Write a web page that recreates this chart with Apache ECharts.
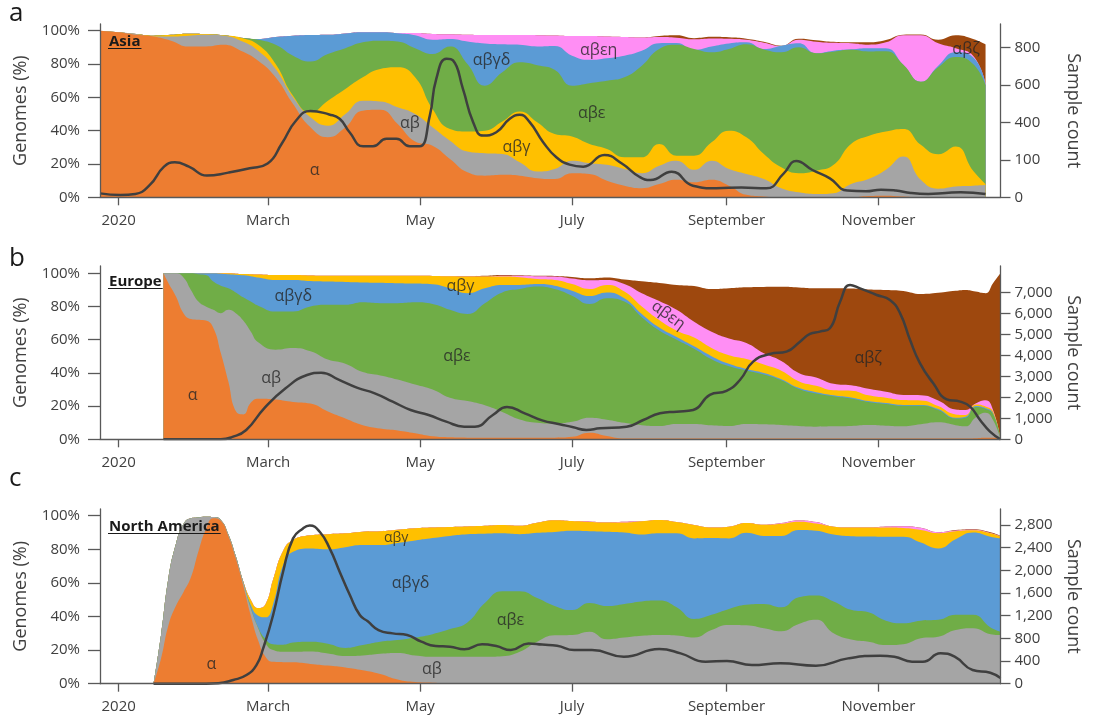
<!DOCTYPE html>
<html><head><meta charset="utf-8">
<script src="https://cdn.jsdelivr.net/npm/echarts@6/dist/echarts.min.js"></script>
<style>html,body{margin:0;padding:0;background:#fff}#chart{width:1094px;height:719px}</style>
</head><body><div id="chart"></div>
<script>
const FONT = '"Open Sans","Noto Sans","DejaVu Sans",sans-serif';
const AXIS = '#595959', TXT = '#404040', LINE = '#3F3F3F', LABEL = '#262626';
const COLORS = {alpha:'#ED7D31', ab:'#A5A5A5', abg:'#FFC000', abgd:'#5B9BD5', abe:'#70AD47', abeh:'#FF8EF4', abz:'#9E480E'};

// x axis: days since 1 Jan 2020
const monthTickDays = [0, 60, 121, 182, 244, 305];
const monthTickLabels = ['2020', 'March', 'May', 'July', 'September', 'November'];
const pctTicks = [0, 20, 40, 60, 80, 100];
const countTicksA = [0, 200, 400, 600, 800];
const countTickLabelsA = ['0', '100', '400', '600', '800'];
const countTicksB = [0, 1000, 2000, 3000, 4000, 5000, 6000, 7000];
const countTickLabelsB = ['0', '1,000', '2,000', '3,000', '4,000', '5,000', '6,000', '7,000'];
const countTicksC = [0, 400, 800, 1200, 1600, 2000, 2400, 2800];
const countTickLabelsC = ['0', '400', '800', '1,200', '1,600', '2,000', '2,400', '2,800'];
const regionNames = ['Asia', 'Europe', 'North America'];
const panelLetters = ['a', 'b', 'c'];

// ---------- Panel a: Asia (upper edge of each lineage band, % of genomes) ----------
const daysA = [-7.5,0,7,14,21,28,35,42,49,56,63,70,77,84,91,98,105,112,119,126,133,140,147,154,161,168,175,182,189,196,203,210,217,224,231,238,245,252,259,266,273,280,287,294,301,308,315,322,329,336,343,348];
const asiaAlpha = [100,99,97.5,96.5,94,90.5,90.5,91.5,88,82,72,56,42,36,42,52,52.5,44,33.5,31,23,15,13,13.5,13,11.5,11,14.5,14,10,7,5.5,8,10.5,9,10.5,7,1.5,0.5,0,0,0,0,0,0.8,1,0.5,0,0,0,0,0];
const asiaAB = [100,99,98,96.5,96.5,97,97.5,97,94,88,77,60,48,43,50,58,57.5,54,50,42,34,27.5,26.5,26,21,15.5,17,22,20.5,19.5,17,14.5,19,22,16.5,22,17,14,11,5.5,3,2,2.5,8,11,16.5,24.5,10.5,5.2,6.5,7,7.4];
const asiaABG = [100,99,98,97,97.5,98.2,98,97.2,95.8,91.5,80,61,51,58,65,72,77,78,72,53,41,39.5,40,45.5,51.5,45,38,36.5,32,29,24,24,32,25,25,33,40,36,26,18,14.5,16,19.5,32,36.8,39.5,41,31.5,25.8,30.5,16,8];
const asiaABE = [100,99,98,97,97.5,98.2,98,97.2,95.8,94.5,91.5,85,81.5,86,89.5,93,94,93.5,89.5,86,90.5,80,67,75,81,79.3,76.5,67,68.5,70,72,79,89,91.5,89,87,89,91.8,88.7,87,90,86.5,87.4,88.5,87.5,87.6,79.5,69.3,78,84.2,80,67.3];
const asiaABGD = [100,99,98,97,97.5,98.2,98,97.2,95.8,95,96.2,97,97.4,97.5,98.3,99,99,98.4,97.2,94.5,95,93.5,92.3,91.8,91.5,90.5,90.8,85,82.5,83.5,85,88,92.5,92.6,88.5,90.5,92.3,93,89,91,92.5,86.5,88,88.8,89.5,89.4,79.5,69.3,79,87,84,68];
const asiaABEH = [100,99,98,97,97.5,98.2,98,97.2,95.8,95,96.2,97,97.4,97.5,98.3,99,99,98.6,98.6,98,97.8,97.5,97.4,97.4,97.4,97.3,97.1,96.8,96.8,96.5,96.2,95.9,96.2,95.8,94.8,95.3,95.1,94.5,92.8,90.8,94.6,93.4,92.7,92.5,91.6,93,97.3,97.3,92.5,89.5,85,68.3];
const asiaABZ = [100,99,98,97,97.5,98.2,98,97.2,95.8,95,96.2,97,97.4,97.5,98.3,99,99,98.6,98.6,98,97.8,97.5,97.4,97.4,97.4,97.3,97.1,96.8,96.8,96.5,96.2,95.9,96.8,97.2,95.5,96.3,96,95.2,93.3,91,95.2,94.3,93.3,93,93,94.4,97.6,97.7,94.5,97.2,95,91.8];
const countDaysA = [-7.5,0.7,6.7,12.5,18.2,22.5,28.2,35.4,44,52.6,59.8,65.5,71.3,77,84.5,88.7,92.7,98.1,102.1,107.5,111.5,116.8,120.8,124.9,127.5,131.6,134.2,138.2,142.3,146.3,151.6,157,161,165,170.4,175.7,181,186.5,195,202,209,213.5,222,230.5,240,250,260,267,272,278.5,285.5,292.5,300,306,312,318,325,332,338,348];
const countsA = [21,12,18,66,164,187,164,116,132,155,181,288,412,462,443,420,348,273,273,313,313,273,273,437,634,741,732,580,402,330,348,420,441,402,295,214,175,164,226,181,110,92,137,62,48,53,48,128,194,146,101,36,32,41,36,23,18,23,27,18];

// ---------- Panel b: Europe ----------
const daysB = [18,20,23,26,29,32,35,38,41,44,47,50,53,56,63,70,77,84,91,98,105,112,119,126,133,140,147,154,161,168,175,182,189,196,203,210,217,224,231,238,245,252,259,266,273,280,287,294,301,308,315,322,329,336,340,344,348,351,354];
const euAlpha = [100,94,86,76,72.5,72,71.5,67,52,35,17,15,22,24.5,24,22.5,21.5,16.7,12.5,8.5,6.5,5.3,3.6,1.8,1.2,1,1,1,1,1,1,1.5,4,2,0.5,0.5,0.5,0.5,0.5,0.5,0.5,0.5,0.5,0.5,0.5,0.5,0.5,0.5,0.5,0.5,0.5,0.5,0.5,0.5,0.5,0.7,1,1,0];
const euAB = [100,100,100,97.5,90,83,80,78,76,78,76,71.5,65,58.5,54,55,53,48,45.5,40.5,38.5,36,33,30,25,23,20.5,16.5,12,10,9.5,10.5,13,11.8,9.9,8.5,8,9.2,9.2,8.4,8,9.2,9,8.6,8,7.6,7.8,8,8.6,8.2,7.8,9,10.2,8.5,7.8,13.2,16,11.6,0];
const euABE = [100,100,100,100,100,99.5,99,95,92.5,91,88.5,85.5,83,80.5,77,77,80,81,81,82.5,82,82,82.5,81.5,78,75.5,82,88.5,90.5,92,90.5,86.5,81.5,85,83,73.5,65.5,60,54.6,48.2,44,41.5,39,35.5,30.3,27.6,26,24.6,22.5,21.3,20.2,20.2,17.6,12.5,13,19.5,18.3,15.2,0];
const euABGD = [100,100,100,100,100,100,100,100,99.8,99.5,99.2,98.8,98.3,97.5,96,96,95.3,95,94.8,94.5,94.3,94,93.8,93.4,91,88,91,93,93,93.5,92.5,89.5,86.3,88.5,85,75.5,67.3,61.6,56,50.1,45.5,42.4,40,36.2,31,28.4,26.5,25.2,23,21.8,20.7,20.7,18.2,13,13.6,20,18.8,15.7,0];
const euABG = [100,100,100,100,100,100,100,100,100,100,99.8,99.6,99.5,99.3,99,99,98.7,98.5,98.5,98.5,98.5,98.5,98.5,98.4,98.2,98,98,98,97.6,96.5,96,93.5,90.5,93,89,80,71.8,65.4,61.3,55,50.6,48.3,45,41.3,35,32.2,29.5,29.3,26.5,25,23.6,23.4,20,15,14.7,21,19.8,16.7,0];
const euABEH = [100,100,100,100,100,100,100,100,100,100,99.8,99.6,99.5,99.3,99,99,98.7,98.5,98.5,98.5,98.5,98.5,98.5,98.4,98.2,98,98,98.5,98.5,98.2,98,96.8,95.8,96,93.5,88,83.3,78,70.8,64.8,60.7,58,51.8,47.2,40,37.3,33.5,32.5,30.4,28.6,26.7,26.6,23.4,18,17.7,21.5,23.5,17.7,0];
const euABZ = [100,100,100,100,100,100,100,100,100,100,99.8,99.6,99.5,99.3,99,99,98.7,98.5,98.5,98.5,98.5,98.5,98.5,98.4,98.2,98.2,98.5,99,98.8,98.5,98.4,97.8,97,97.5,96.3,95.2,94.2,93,92.3,90.5,91,91.6,91.8,91.9,91.5,91,91,90.8,90.3,90,89.4,87.6,88.3,89.5,90,89,88,94,100];
const countDaysB = [18,41,45.4,51.2,58.4,67,75.6,81.3,88.5,95.6,102.8,110,117.2,124.4,131.5,138.7,143,150.2,155.9,163,170,177,182.5,187.8,193.2,203.9,210.6,217.3,224,230.6,237.3,244,249.4,254.7,261.4,268.1,273.5,277.5,281.5,285.5,289.6,293.6,297.6,304.3,309.6,313.7,317.7,321.7,327,332.4,337.8,341.8,345.8,349.8,354];
const countsB = [0,0,100,444,1476,2428,3063,3174,2825,2460,2190,1793,1397,1158,841,603,603,1158,1539,1238,900,720,571,444,524,603,920,1238,1317,1397,2111,2301,2825,3698,4063,4174,4650,5015,5126,5285,6554,7348,7189,6872,6634,5999,4729,3618,2666,1904,1793,1555,920,365,0];

// ---------- Panel c: North America ----------
const daysC = [14,17,20,23,26,29,32,35,38,41,44,47,50,53,56,59,62,66,70,77,84,91,98,105,112,119,126,133,140,147,154,161,168,175,182,189,196,203,210,217,224,231,238,245,252,259,266,273,280,287,294,301,308,315,322,329,336,343,350,354];
const naAlpha = [0,15,35,46.4,54.5,63.3,78.7,91.8,98.5,97,88,74.5,58.5,40.8,25.7,15.9,13,12.8,12.7,11.8,10.8,9.7,8,5.8,2.5,1,0.6,0.4,0.2,0,0,0,0,0,0,0,0,0,0,0,0,0,0,0,0,0,0,0,0,0,0,0,0,0,0,0,0,0,0,0];
const naAB = [0,29,63,83.3,95,98.5,99,99.4,99.2,97.5,89,76,60.5,45,33,24,20,19,19,19.2,18,16.5,16.8,17.8,18.3,16.8,16,16,16,16,16.3,19,25,28.8,29,31,26.5,27.5,28.5,29,28.7,27.5,32,35,34.8,33,31.2,35.5,38,30,26.3,25,23,23.5,27,28,32,33,29.5,29];
const naABE = [0,29,63,83.3,95,98.5,99,99.4,99.2,97.5,89,76,60.5,45.5,33.5,26.5,23.5,23.2,24.5,25,23.8,21.3,23,25,26,27.5,29.5,32.5,36.5,48,55,55,51,46.3,43.8,48,46.2,47.5,49,49.5,45.5,38.5,41,44.5,47,47.5,45.5,51.5,52.5,49,44,42.5,37.5,36,37.5,38,41,41,33.5,31];
const naABGD = [0,29,63,83.3,95,98.5,99,99.4,99.2,97.5,89,76,60.5,47,40.5,39.5,47.5,70.6,78.6,80.5,80,81.3,82.5,82.5,83.8,85.3,86.7,88,89,89.3,89.5,89,89.8,90.3,91,90.8,90.5,90,88.8,89.5,89.5,86.5,86.7,86.5,89.8,88,88,91.5,91,88.8,87.8,87.6,87.5,87.5,84,80.5,86,90,87.5,86.5];
const naABG = [0,29,63,83.3,95,98.5,99,99.4,99.2,97.5,89,76,61,50,45,47.5,62,79,85.5,88.3,89,89.5,90.5,90.8,91.7,92.6,93,93.3,93.6,94,94.5,94,95.8,97.3,96.8,96.3,96,96,96.7,97.5,96.2,94.5,93,93.5,95.7,94.6,95.2,96.4,95.3,93.5,93,93,93,92.7,91.5,89.6,90.8,91.3,89.5,87.5];
const naABEH = [0,29,63,83.3,95,98.5,99,99.4,99.2,97.5,89,76,61,50,45,47.5,62,79,85.5,88.3,89,89.5,90.5,90.8,91.7,92.6,93,93.3,93.6,94,94.5,94,95.8,97.3,96.8,96.6,96,96.4,96.7,97.5,96.2,94.5,93,93.5,95.7,94.6,95.6,97.2,96.2,93.5,93,93,93.6,93.8,92.8,90.2,91.2,91.6,89.7,87.7];
const naABZ = [0,29,63,83.3,95,98.5,99,99.4,99.2,97.5,89,76,61,50,45,47.5,62,79,85.5,88.3,89,89.5,90.5,90.8,91.7,92.6,93,93.3,93.6,94,94.5,94,95.8,97.3,96.8,96.6,96,96.4,96.7,97.5,96.2,94.5,93,93.5,95.7,94.6,95.6,97.2,96.2,93.5,93,93,93.6,93.8,92.8,90.2,91.5,92,90.2,88];
const countDaysC = [14,30,40,46,51.3,55.3,58,62,66,70,74,76.7,80.7,84.7,88.7,92.8,96.8,100,104.3,110,115.8,121.5,127.2,133,138.7,145.9,151.6,157.4,164.5,170,176,182.8,190,202.8,217,225.6,235.6,244.2,254.2,265.6,279.9,292.8,305.6,311.4,318.5,322.8,329.9,335.6,342.8,349.9,354];
const countsC = [0,0,10,65,153,329,623,1211,1976,2564,2740,2790,2681,2387,1976,1564,1211,1100,946,888,858,741,664,653,606,694,664,594,711,690,670,594,594,476,612,535,388,400,329,359,318,447,494,476,388,388,535,476,241,194,100];

// lineage label anchors [text, day, %, rotation]
const labelsA = [['α',78.7,16.4,0],['αβ',116.9,44.2,0],['αβγ',159.7,30.2,0],['αβγδ',149.7,82.2,0],['αβε',189.9,50.4,0],['αβεη',192.7,88.4,0],['αβζ',340.2,88.5,0]];
const labelsB = [['α',29.7,26.7,0],['αβ',61.2,36.7,0],['αβγδ',70.1,85.9,0],['αβγ',137.2,91.9,0],['αβε',135.8,49.8,0],['αβεη',220.6,74.7,-36],['αβζ',300.9,48.6,0]];
const labelsC = [['α',37.2,11.5,0],['αβ',125.7,8.2,0],['αβγδ',117.2,59.8,0],['αβγ',111.4,86.5,0],['αβε',157.3,37.9,0]];

// ---------- layout ----------
const grids = [
  {left:100, right:93.5, top:24, height:173.3},
  {left:100, right:93.5, top:266, height:173.3},
  {left:100, right:93.5, top:509, height:174.7}
];
const pctMax = [104, 104.4, 104];
const countMax = [927, 8252, 3082];
const countTicks = [countTicksA, countTicksB, countTicksC];
const countTickLabels = [countTickLabelsA, countTickLabelsB, countTickLabelsC];

function xAx(gi){
  return {gridIndex:gi, type:'value', min:-7.5, max:354, z:5,
    axisLine:{show:true, onZero:false, lineStyle:{color:AXIS, width:1.3}},
    axisTick:{show:true, customValues:monthTickDays, length:8, lineStyle:{color:AXIS, width:1.3}},
    axisLabel:{show:true, customValues:monthTickDays, formatter:v=>monthTickLabels[monthTickDays.indexOf(v)], color:TXT, fontSize:15, fontFamily:FONT, margin:16},
    splitLine:{show:false}};
}
function yLeft(gi){
  return {gridIndex:gi, type:'value', min:0, max:pctMax[gi], position:'left', z:5,
    name:'Genomes (%)', nameLocation:'middle', nameGap:70,
    nameTextStyle:{fontSize:18, color:TXT, fontFamily:FONT},
    axisLine:{show:true, onZero:false, lineStyle:{color:AXIS, width:1.3}},
    axisTick:{show:true, customValues:pctTicks, length:12, lineStyle:{color:AXIS, width:1.3}},
    axisLabel:{show:true, customValues:pctTicks, formatter:'{value}%', color:TXT, fontSize:15, fontFamily:FONT, margin:20},
    splitLine:{show:false}};
}
function yRight(gi){
  const t = countTicks[gi], l = countTickLabels[gi];
  return {gridIndex:gi, type:'value', min:0, max:countMax[gi], position:'right', z:5,
    name:'Sample count', nameLocation:'middle', nameGap:64, nameRotate:-90,
    nameTextStyle:{fontSize:18, color:TXT, fontFamily:FONT},
    axisLine:{show:true, onZero:false, lineStyle:{color:AXIS, width:1.3}},
    axisTick:{show:true, customValues:t, length:10, lineStyle:{color:AXIS, width:1.3}},
    axisLabel:{show:true, customValues:t, formatter:v=>l[t.indexOf(v)], color:TXT, fontSize:15, fontFamily:FONT, margin:14},
    splitLine:{show:false}};
}
function band(gi, name, days, vals, color){
  return {type:'line', name, xAxisIndex:gi, yAxisIndex:gi*2, data:days.map((d,i)=>[d, vals[i]]),
    smooth:0.5, symbol:'none', showSymbol:false,
    lineStyle:{opacity:0}, areaStyle:{color, opacity:1}, silent:true, z:2};
}
function countLine(gi, days, vals){
  return {type:'line', name:'Sample count', xAxisIndex:gi, yAxisIndex:gi*2+1, data:days.map((d,i)=>[d, vals[i]]),
    smooth:0.5, symbol:'none', showSymbol:false,
    lineStyle:{color:LINE, width:2.5}, silent:true, z:3};
}
function labelSeries(gi, items){
  return {type:'scatter', xAxisIndex:gi, yAxisIndex:gi*2, symbolSize:0, silent:true, z:4,
    data:items.map(it=>({name:it[0], value:[it[1], it[2]], label:{rotate:it[3]}})),
    label:{show:true, position:'inside', formatter:'{b}', color:LABEL, fontSize:16, fontFamily:FONT}};
}

const series = [
  // Asia: bottom->top alpha, ab, abg, abe, abgd, abeh, abz (drawn top edge first)
  band(0,'αβζ',daysA,asiaABZ,COLORS.abz), band(0,'αβεη',daysA,asiaABEH,COLORS.abeh),
  band(0,'αβγδ',daysA,asiaABGD,COLORS.abgd), band(0,'αβε',daysA,asiaABE,COLORS.abe),
  band(0,'αβγ',daysA,asiaABG,COLORS.abg), band(0,'αβ',daysA,asiaAB,COLORS.ab),
  band(0,'α',daysA,asiaAlpha,COLORS.alpha), countLine(0,countDaysA,countsA), labelSeries(0,labelsA),
  // Europe: bottom->top alpha, ab, abe, abgd, abg, abeh, abz
  band(1,'αβζ',daysB,euABZ,COLORS.abz), band(1,'αβεη',daysB,euABEH,COLORS.abeh),
  band(1,'αβγ',daysB,euABG,COLORS.abg), band(1,'αβγδ',daysB,euABGD,COLORS.abgd),
  band(1,'αβε',daysB,euABE,COLORS.abe), band(1,'αβ',daysB,euAB,COLORS.ab),
  band(1,'α',daysB,euAlpha,COLORS.alpha), countLine(1,countDaysB,countsB), labelSeries(1,labelsB),
  // North America
  band(2,'αβζ',daysC,naABZ,COLORS.abz), band(2,'αβεη',daysC,naABEH,COLORS.abeh),
  band(2,'αβγ',daysC,naABG,COLORS.abg), band(2,'αβγδ',daysC,naABGD,COLORS.abgd),
  band(2,'αβε',daysC,naABE,COLORS.abe), band(2,'αβ',daysC,naAB,COLORS.ab),
  band(2,'α',daysC,naAlpha,COLORS.alpha), countLine(2,countDaysC,countsC), labelSeries(2,labelsC)
];
// smaller αβγ label in panel c
series[series.length-1].data[3].label.fontSize = 14;

// decorations: panel letters and underlined region names
const measure = document.createElement('canvas').getContext('2d');
const regionFont = 'bold 15px ' + FONT;
measure.font = regionFont;
const letterY = [16, 261, 481];
const regionY = [41.5, 281.5, 526.5];
const graphic = [];
for (let i = 0; i < 3; i++) {
  graphic.push({type:'text', left:9, top:letterY[i]-15, style:{text:panelLetters[i], font:'26px '+FONT, fill:'#1a1a1a'}});
  const w = measure.measureText(regionNames[i]).width;
  graphic.push({type:'text', x:109, y:regionY[i], style:{text:regionNames[i], font:regionFont, fill:'#1a1a1a', verticalAlign:'middle'}, z:10});
  graphic.push({type:'line', shape:{x1:108, y1:regionY[i]+7, x2:110+w, y2:regionY[i]+7}, style:{stroke:'#1a1a1a', lineWidth:1.2}, z:10});
}

const chart = echarts.init(document.getElementById('chart'), null, {renderer:'canvas'});
chart.setOption({
  animation:false,
  backgroundColor:'#fff',
  grid:grids.map(g=>Object.assign({containLabel:false, outerBoundsMode:'none'}, g)),
  xAxis:[xAx(0), xAx(1), xAx(2)],
  yAxis:[yLeft(0), yRight(0), yLeft(1), yRight(1), yLeft(2), yRight(2)],
  series,
  graphic
});
</script></body></html>
